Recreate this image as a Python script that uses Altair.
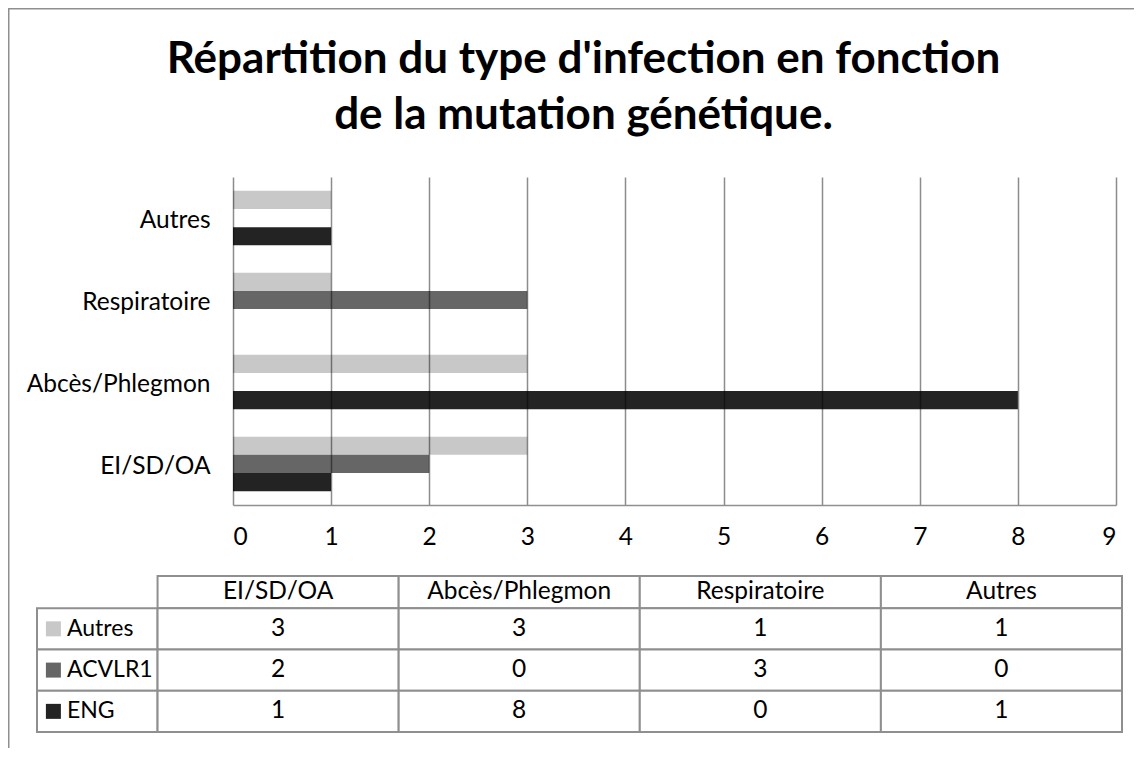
import altair as alt
import pandas as pd

# ---------------- data ----------------
categories = ["EI/SD/OA", "Abcès/Phlegmon", "Respiratoire", "Autres"]
series = ["Autres", "ACVLR1", "ENG"]
values_autres = [3, 3, 1, 1]
values_acvlr1 = [2, 0, 3, 0]
values_eng = [1, 8, 0, 1]
x_ticks = [0, 1, 2, 3, 4, 5, 6, 7, 8, 9]
colors = ["#c8c8c8", "#666666", "#232323"]
title_lines = ["Répartition du type d'infection en fonction", "de la mutation génétique."]

# ---------------- layout ----------------
FONT = "Lato"
FS = 24.5
W, H = 883, 328
PAD = {"left": 225, "top": 169, "right": 18, "bottom": 243}
HH = 0.78          # header row height, in table-row units
SQ_X = 0.068       # legend square centre in label column, in column units
LINE = "#8f8f8f"

series_values = [values_autres, values_acvlr1, values_eng]

rows = []
for s, vals in zip(series, series_values):
    for c, v in zip(categories, vals):
        rows.append({"cat": c, "serie": s, "val": v})
df = pd.DataFrame(rows)

# table cells
cells = []
for i, c in enumerate(categories):
    cells.append({"x0": 0.5 + i, "x1": 1.5 + i, "y0": 0, "y1": HH, "txt": c, "kind": "head", "serie": ""})
for r, (s, vals) in enumerate(zip(series, series_values)):
    cells.append({"x0": 0, "x1": 0.5, "y0": HH + r, "y1": HH + r + 1, "txt": s, "kind": "label", "serie": s})
    for i, v in enumerate(vals):
        cells.append({"x0": 0.5 + i, "x1": 1.5 + i, "y0": HH + r, "y1": HH + r + 1, "txt": str(v), "kind": "val", "serie": s})
tdf = pd.DataFrame(cells)
tdf["xc"] = (tdf["x0"] + tdf["x1"]) / 2
tdf["yc"] = (tdf["y0"] + tdf["y1"]) / 2
tdf["xs"] = tdf["x0"] + SQ_X

color_scale = alt.Scale(domain=series, range=colors)

# ---------------- bars ----------------
bars = alt.Chart(df).mark_bar().encode(
    x=alt.X("val:Q", scale=alt.Scale(domain=[0, 9], nice=False, zero=True),
            axis=alt.Axis(values=x_ticks, title=None, grid=True, ticks=False,
                          labelFontSize=FS, labelFont=FONT, labelColor="#000",
                          labelPadding=20, domainColor=LINE, domainWidth=1.5,
                          gridColor="#000", gridOpacity=0.45, gridWidth=1.5, zindex=1)),
    y=alt.Y("cat:N", sort=categories[::-1],
            scale=alt.Scale(paddingInner=0.333, paddingOuter=0.1667),
            axis=alt.Axis(title=None, ticks=False, domain=False, grid=False,
                          labelFontSize=FS, labelFont=FONT, labelColor="#000",
                          labelPadding=23, labelLimit=400, labelOffset=3)),
    yOffset=alt.YOffset("serie:N", sort=series, scale=alt.Scale(paddingInner=0, paddingOuter=0)),
    color=alt.Color("serie:N", scale=color_scale, legend=None),
)

# ---------------- table ----------------
tx = alt.Scale(domain=[0, 4.5], range=[-196, 889], nice=False, zero=False)
ty = alt.Scale(domain=[0, HH + 3], range=[399, 555], nice=False, zero=False)

base = alt.Chart(tdf)
grid_cells = base.mark_rect(fill="white", stroke=LINE, strokeWidth=2).encode(
    x=alt.X("x0:Q", scale=tx, axis=None), x2="x1:Q",
    y=alt.Y("y0:Q", scale=ty, axis=None), y2="y1:Q",
)
center_txt = base.transform_filter("datum.kind != 'label'").mark_text(
    font=FONT, fontSize=FS, color="#000", align="center", baseline="middle"
).encode(
    x=alt.X("xc:Q", scale=tx, axis=None),
    y=alt.Y("yc:Q", scale=ty, axis=None),
    text="txt:N",
)
label_txt = base.transform_filter("datum.kind == 'label'").mark_text(
    font=FONT, fontSize=23, color="#000", align="left", baseline="middle", dx=30
).encode(
    x=alt.X("x0:Q", scale=tx, axis=None),
    y=alt.Y("yc:Q", scale=ty, axis=None),
    text="txt:N",
)
squares = base.transform_filter("datum.kind == 'label'").mark_square(
    size=225, filled=True, opacity=1
).encode(
    x=alt.X("xs:Q", scale=tx, axis=None),
    y=alt.Y("yc:Q", scale=ty, axis=None),
    color=alt.Color("serie:N", scale=color_scale, legend=None),
)
table = alt.layer(grid_cells, center_txt, label_txt, squares)

# outer frame
frame = alt.Chart(pd.DataFrame({"f": [0]})).mark_rect(
    fill=None, stroke=LINE, strokeWidth=3
).encode(
    x=alt.value(-PAD["left"]), x2=alt.value(W + 200),
    y=alt.value(-PAD["top"] + 0), y2=alt.value(H + 400),
)

chart = alt.layer(frame, bars, table).resolve_scale(
    x="independent", y="independent"
).properties(
    width=W, height=H,
    padding=PAD,
    autosize=alt.AutoSizeParams(type="none"),
    title=alt.TitleParams(
        text=title_lines, font=FONT, fontSize=44, fontWeight="bold", color="#000",
        anchor="middle", dx=-91, offset=0, dy=166, baseline="alphabetic", lineHeight=56,
    ),
).configure_view(stroke=None)

chart.save("out.html", embed_options={"renderer": "svg", "actions": False})
